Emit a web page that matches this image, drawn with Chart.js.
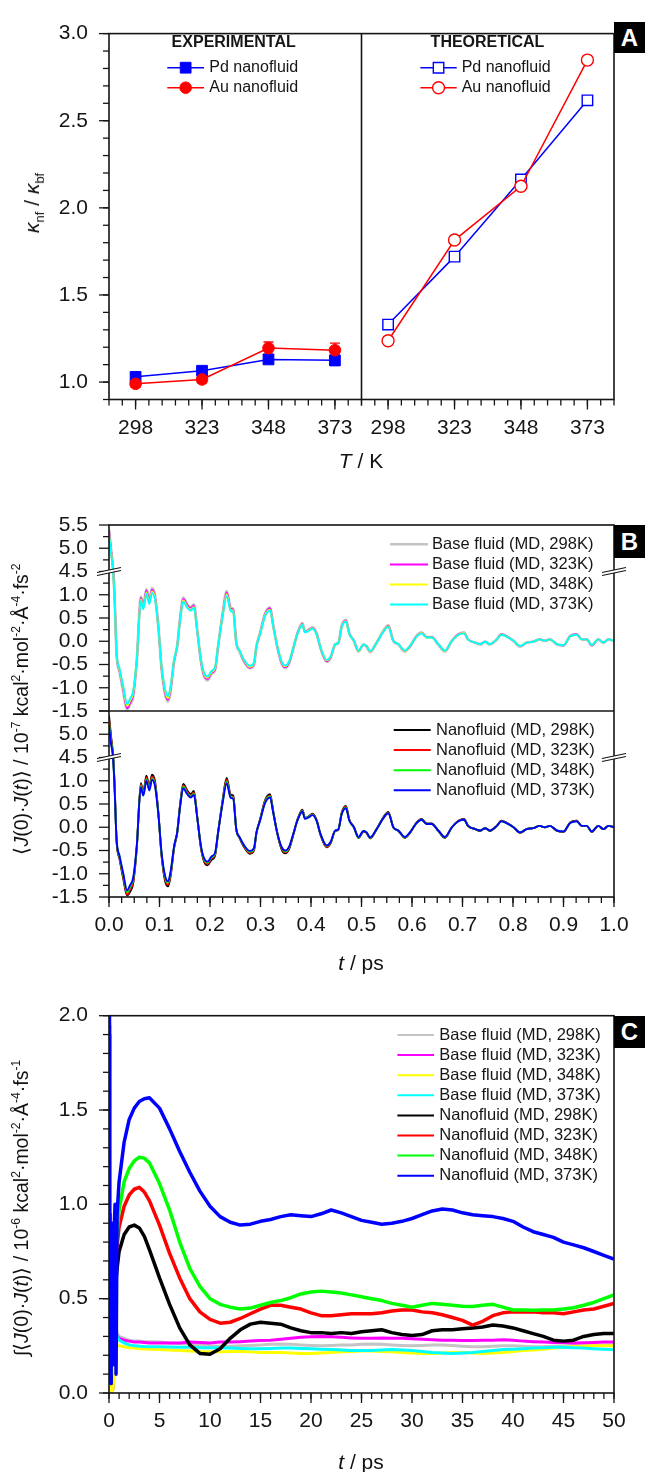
<!DOCTYPE html>
<html>
<head>
<meta charset="utf-8">
<script src="https://cdn.jsdelivr.net/npm/chart.js"></script>
<style>
  body { margin: 0; background: #fff; }
  #page { position: relative; width: 645px; height: 1472px; overflow: hidden;
          font-family: "Liberation Sans", Arial, sans-serif; color: #111; }
  canvas { position: absolute; left: 0; }
  .ytl { position: absolute; white-space: nowrap; transform: translate(-50%, -50%) rotate(-90deg); }
  .xtl { position: absolute; white-space: nowrap; transform: translate(-50%, -50%); }
  .tag { position: absolute; left: 614px; width: 31px; background: #000; color: #fff; font-weight: bold;
         font-size: 24px; display: flex; align-items: center; justify-content: center; }
  sup, sub { font-size: 62%; line-height: 0; }
</style>
</head>
<body>
<div id="page">
  <canvas id="chartA" width="645" height="480" style="top:0"></canvas>
  <canvas id="chartB" width="645" height="500" style="top:480px"></canvas>
  <canvas id="chartC" width="645" height="492" style="top:980px"></canvas>

  <div class="ytl" style="left:32px;top:203px;font-size:21px"><i>κ</i><sub>nf</sub> / <i>κ</i><sub>bf</sub></div>
  <div class="xtl" style="left:361px;top:461px;font-size:21px"><i>T</i> / K</div>
  <div class="ytl" style="left:21px;top:709px;font-size:19.5px">⟨<i>J</i>(0)·<i>J</i>(<i>t</i>)⟩ / 10<sup>-7</sup> kcal<sup>2</sup>·mol<sup>-2</sup>·Å<sup>-4</sup>·fs<sup>-2</sup></div>
  <div class="xtl" style="left:361px;top:963px;font-size:21px"><i>t</i> / ps</div>
  <div class="ytl" style="left:21px;top:1208px;font-size:19.5px">∫⟨<i>J</i>(0)·<i>J</i>(<i>t</i>)⟩ / 10<sup>-6</sup> kcal<sup>2</sup>·mol<sup>-2</sup>·Å<sup>-4</sup>·fs<sup>-1</sup></div>
  <div class="xtl" style="left:361px;top:1462px;font-size:21px"><i>t</i> / ps</div>

  <div class="tag" style="top:22px;height:31px">A</div>
  <div class="tag" style="top:525px;height:33px">B</div>
  <div class="tag" style="top:1016px;height:32px">C</div>
</div>

<script>
// ---------- panel A: thermal conductivity ratio ----------
const A_TEMPS = [298, 323, 348, 373];
const A_YTICKS = [1.0, 1.5, 2.0, 2.5, 3.0];
const PD_EXP = [1.03, 1.065, 1.13, 1.125];
const PD_EXP_ERR = [0.015, 0.015, 0.02, 0.03];
const AU_EXP = [0.99, 1.015, 1.195, 1.183];
const AU_EXP_ERR = [0.02, 0.02, 0.035, 0.04];
const PD_THEO = [1.33, 1.72, 2.163, 2.617];
const AU_THEO = [1.237, 1.815, 2.124, 2.848];

// ---------- panel B: heat current autocorrelation ----------
const B_XTICKS = [0, 0.1, 0.2, 0.3, 0.4, 0.5, 0.6, 0.7, 0.8, 0.9, 1.0];
const B_YTICKS = [-1.5, -1.0, -0.5, 0.0, 0.5, 1.0, 4.5, 5.0, 5.5];
const B_YMINOR = [-1.25, -0.75, -0.25, 0.25, 0.75, 1.25, 4.75, 5.25];
const B_BREAK = [1.5, 4.5];
const B_T = [0.000,0.004,0.008,0.011,0.015,0.021,0.028,0.036,0.041,0.048,
  0.055,0.063,0.068,0.074,0.080,0.085,0.091,0.098,0.104,0.111,
  0.117,0.122,0.129,0.135,0.141,0.147,0.155,0.162,0.168,0.175,
  0.182,0.188,0.195,0.203,0.210,0.216,0.225,0.233,0.241,0.246,
  0.252,0.259,0.267,0.279,0.287,0.292,0.299,0.309,0.319,0.325,
  0.333,0.342,0.349,0.357,0.365,0.373,0.383,0.388,0.395,0.403,
  0.411,0.419,0.431,0.439,0.448,0.454,0.461,0.469,0.476,0.485,
  0.494,0.504,0.510,0.517,0.530,0.543,0.553,0.563,0.573,0.586,
  0.596,0.609,0.619,0.629,0.639,0.652,0.665,0.679,0.692,0.703,
  0.711,0.725,0.735,0.745,0.754,0.768,0.777,0.787,0.801,0.814,
  0.827,0.840,0.853,0.863,0.873,0.887,0.900,0.913,0.926,0.936,
  0.946,0.956,0.969,0.979,0.989,1.000];
const BF298 = [5.40,4.98,4.56,0.99,-0.26,-0.66,-1.06,-1.47,-1.37,-1.18,
  -0.43,0.96,0.76,1.12,0.88,1.14,0.99,0.29,-0.58,-1.13,
  -1.30,-1.06,-0.43,-0.11,0.52,0.94,0.79,0.73,0.79,0.21,
  -0.43,-0.74,-0.84,-0.70,-0.62,-0.11,0.59,1.08,0.72,0.69,
  -0.03,-0.23,-0.43,-0.58,-0.51,-0.11,0.17,0.59,0.73,0.36,
  -0.11,-0.48,-0.57,-0.46,-0.15,0.17,0.39,0.21,0.24,0.30,
  0.17,-0.15,-0.44,-0.35,-0.07,-0.04,0.34,0.46,0.17,0.01,
  -0.22,-0.08,-0.11,-0.23,-0.03,0.22,0.34,0.01,-0.07,-0.22,
  -0.11,0.11,0.19,0.09,0.09,-0.07,-0.22,0.01,0.15,0.19,
  0.04,-0.03,-0.07,-0.01,-0.07,0.04,0.15,0.11,0.01,-0.11,
  -0.03,-0.01,0.04,0.01,0.04,-0.07,-0.09,0.11,0.15,0.04,
  0.04,-0.09,0.04,-0.03,0.04,0.01];
const BF323 = [5.38,4.96,4.55,0.96,-0.26,-0.64,-1.03,-1.44,-1.34,-1.14,
  -0.42,0.93,0.74,1.09,0.86,1.11,0.96,0.28,-0.57,-1.10,
  -1.26,-1.03,-0.42,-0.11,0.50,0.91,0.77,0.71,0.77,0.20,
  -0.42,-0.72,-0.81,-0.68,-0.60,-0.11,0.58,1.05,0.70,0.67,
  -0.03,-0.22,-0.42,-0.57,-0.49,-0.11,0.16,0.58,0.71,0.35,
  -0.11,-0.47,-0.56,-0.45,-0.15,0.16,0.37,0.20,0.24,0.29,
  0.16,-0.15,-0.43,-0.34,-0.06,-0.04,0.33,0.45,0.16,0.01,
  -0.21,-0.07,-0.11,-0.22,-0.03,0.21,0.33,0.01,-0.06,-0.21,
  -0.11,0.11,0.18,0.09,0.09,-0.06,-0.21,0.01,0.15,0.18,
  0.04,-0.03,-0.06,-0.01,-0.06,0.04,0.15,0.11,0.01,-0.11,
  -0.03,-0.01,0.04,0.01,0.04,-0.06,-0.09,0.11,0.15,0.04,
  0.04,-0.09,0.04,-0.03,0.04,0.01];
const BF348 = [5.32,4.92,4.53,0.92,-0.25,-0.62,-0.99,-1.39,-1.29,-1.10,
  -0.40,0.90,0.71,1.05,0.82,1.07,0.93,0.27,-0.55,-1.06,
  -1.22,-0.99,-0.40,-0.10,0.48,0.88,0.74,0.68,0.74,0.20,
  -0.40,-0.69,-0.78,-0.66,-0.58,-0.10,0.56,1.01,0.67,0.65,
  -0.03,-0.22,-0.40,-0.55,-0.47,-0.10,0.15,0.56,0.68,0.34,
  -0.10,-0.45,-0.54,-0.43,-0.14,0.15,0.36,0.20,0.23,0.28,
  0.15,-0.14,-0.41,-0.33,-0.06,-0.04,0.32,0.43,0.15,0.01,
  -0.21,-0.07,-0.10,-0.22,-0.03,0.21,0.32,0.01,-0.06,-0.21,
  -0.10,0.10,0.18,0.08,0.08,-0.06,-0.21,0.01,0.14,0.18,
  0.04,-0.03,-0.06,-0.01,-0.06,0.04,0.14,0.10,0.01,-0.10,
  -0.03,-0.01,0.04,0.01,0.04,-0.06,-0.08,0.10,0.14,0.04,
  0.04,-0.08,0.04,-0.03,0.04,0.01];
const BF373 = [5.30,4.90,4.52,0.90,-0.24,-0.60,-0.96,-1.35,-1.25,-1.07,
  -0.39,0.87,0.69,1.02,0.80,1.04,0.90,0.26,-0.53,-1.03,
  -1.18,-0.96,-0.39,-0.10,0.47,0.85,0.72,0.66,0.72,0.19,
  -0.39,-0.67,-0.76,-0.64,-0.56,-0.10,0.54,0.98,0.65,0.63,
  -0.03,-0.21,-0.39,-0.53,-0.46,-0.10,0.15,0.54,0.66,0.33,
  -0.10,-0.44,-0.52,-0.42,-0.14,0.15,0.35,0.19,0.22,0.27,
  0.15,-0.14,-0.40,-0.32,-0.06,-0.04,0.31,0.42,0.15,0.01,
  -0.20,-0.07,-0.10,-0.21,-0.03,0.20,0.31,0.01,-0.06,-0.20,
  -0.10,0.10,0.17,0.08,0.08,-0.06,-0.20,0.01,0.14,0.17,
  0.04,-0.03,-0.06,-0.01,-0.06,0.04,0.14,0.10,0.01,-0.10,
  -0.03,-0.01,0.04,0.01,0.04,-0.06,-0.08,0.10,0.14,0.04,
  0.04,-0.08,0.04,-0.03,0.04,0.01];
const NF298 = [5.40,4.96,4.56,0.94,-0.29,-0.69,-1.09,-1.47,-1.40,-1.20,
  -0.44,0.95,0.75,1.11,0.88,1.13,0.99,0.28,-0.60,-1.15,
  -1.27,-1.05,-0.44,-0.12,0.51,0.93,0.79,0.71,0.78,0.20,
  -0.44,-0.73,-0.82,-0.70,-0.61,-0.12,0.58,1.06,0.70,0.68,
  -0.04,-0.24,-0.42,-0.57,-0.50,-0.12,0.16,0.58,0.71,0.36,
  -0.12,-0.48,-0.56,-0.46,-0.16,0.16,0.38,0.20,0.23,0.29,
  0.16,-0.17,-0.43,-0.34,-0.08,-0.06,0.32,0.46,0.16,0.00,
  -0.23,-0.09,-0.12,-0.24,-0.04,0.21,0.33,0.00,-0.08,-0.23,
  -0.12,0.10,0.18,0.08,0.08,-0.08,-0.23,0.00,0.14,0.18,
  0.03,-0.04,-0.08,-0.02,-0.08,0.03,0.14,0.10,0.00,-0.12,
  -0.04,-0.02,0.03,0.00,0.03,-0.08,-0.10,0.10,0.14,0.03,
  0.03,-0.10,0.03,-0.04,0.03,0.00];
const NF323 = [5.32,4.90,4.54,0.91,-0.28,-0.66,-1.05,-1.45,-1.35,-1.16,
  -0.43,0.92,0.73,1.07,0.85,1.09,0.95,0.27,-0.58,-1.11,
  -1.24,-1.02,-0.43,-0.12,0.49,0.90,0.76,0.68,0.75,0.19,
  -0.43,-0.71,-0.79,-0.67,-0.59,-0.12,0.56,1.02,0.67,0.65,
  -0.04,-0.24,-0.41,-0.55,-0.48,-0.12,0.15,0.56,0.68,0.34,
  -0.12,-0.46,-0.54,-0.44,-0.15,0.15,0.36,0.19,0.22,0.28,
  0.15,-0.16,-0.42,-0.33,-0.07,-0.05,0.31,0.44,0.15,0.00,
  -0.22,-0.09,-0.12,-0.24,-0.04,0.20,0.32,0.00,-0.07,-0.22,
  -0.12,0.10,0.17,0.07,0.07,-0.07,-0.22,0.00,0.14,0.17,
  0.03,-0.04,-0.07,-0.02,-0.07,0.03,0.14,0.10,0.00,-0.12,
  -0.04,-0.02,0.03,0.00,0.03,-0.07,-0.10,0.10,0.14,0.03,
  0.03,-0.10,0.03,-0.04,0.03,0.00];
const NF348 = [5.26,4.85,4.52,0.88,-0.27,-0.64,-1.01,-1.40,-1.30,-1.11,
  -0.41,0.89,0.70,1.03,0.81,1.05,0.92,0.26,-0.56,-1.07,
  -1.19,-0.98,-0.41,-0.11,0.47,0.87,0.73,0.66,0.72,0.19,
  -0.41,-0.68,-0.76,-0.65,-0.57,-0.11,0.54,0.98,0.65,0.63,
  -0.04,-0.23,-0.39,-0.53,-0.46,-0.11,0.14,0.54,0.66,0.33,
  -0.11,-0.44,-0.52,-0.42,-0.14,0.14,0.35,0.19,0.22,0.27,
  0.14,-0.15,-0.40,-0.32,-0.07,-0.05,0.30,0.42,0.14,0.00,
  -0.22,-0.08,-0.11,-0.23,-0.04,0.20,0.31,0.00,-0.07,-0.22,
  -0.11,0.09,0.16,0.07,0.07,-0.07,-0.22,0.00,0.13,0.16,
  0.03,-0.04,-0.07,-0.02,-0.07,0.03,0.13,0.09,0.00,-0.11,
  -0.04,-0.02,0.03,0.00,0.03,-0.07,-0.09,0.09,0.13,0.03,
  0.03,-0.09,0.03,-0.04,0.03,0.00];
const NF373 = [5.20,4.80,4.50,0.85,-0.26,-0.62,-0.98,-1.36,-1.26,-1.08,
  -0.40,0.86,0.68,1.00,0.79,1.02,0.89,0.25,-0.54,-1.04,
  -1.16,-0.95,-0.40,-0.11,0.46,0.84,0.71,0.64,0.70,0.18,
  -0.40,-0.66,-0.74,-0.63,-0.55,-0.11,0.52,0.95,0.63,0.61,
  -0.04,-0.22,-0.38,-0.51,-0.45,-0.11,0.14,0.52,0.64,0.32,
  -0.11,-0.43,-0.50,-0.41,-0.14,0.14,0.34,0.18,0.21,0.26,
  0.14,-0.15,-0.39,-0.31,-0.07,-0.05,0.29,0.41,0.14,0.00,
  -0.21,-0.08,-0.11,-0.22,-0.04,0.19,0.30,0.00,-0.07,-0.21,
  -0.11,0.09,0.16,0.07,0.07,-0.07,-0.21,0.00,0.13,0.16,
  0.03,-0.04,-0.07,-0.02,-0.07,0.03,0.13,0.09,0.00,-0.11,
  -0.04,-0.02,0.03,0.00,0.03,-0.07,-0.09,0.09,0.13,0.03,
  0.03,-0.09,0.03,-0.04,0.03,0.00];

// ---------- panel C: running integral ----------
const C_XTICKS = [0, 5, 10, 15, 20, 25, 30, 35, 40, 45, 50];
const C_YTICKS = [0.0, 0.5, 1.0, 1.5, 2.0];
const C_T = [0,0.05,0.1,0.2,0.3,0.4,0.5,0.6,0.7,0.8,
  1,1.5,2,2.5,3,3.5,4,
  5,6,7,8,9,10,11,12,13,14,15,16,17,18,19,20,21,22,23,24,25,26,27,28,29,
  30,31,32,33,34,35,36,37,38,39,40,41,42,43,44,45,46,47,48,49,50];
const CBF298 = [1.9,0.6,0.4,0.2,0.1,0.05,0.25,0.38,0.35,0.32,
  0.3,0.29,0.28,0.275,0.275,0.273,0.272,
  0.27,0.265,0.262,0.258,0.255,0.25,0.248,0.248,0.25,0.252,
  0.255,0.258,0.26,0.258,0.255,0.252,0.25,0.252,0.255,0.255,
  0.258,0.26,0.258,0.255,0.252,0.25,0.252,0.255,0.255,0.252,
  0.248,0.245,0.245,0.248,0.25,0.25,0.248,0.245,0.245,0.248,
  0.25,0.252,0.255,0.255,0.255,0.255];
const CBF323 = [1.85,0.5,0.3,0.1,0.05,0.02,0.15,0.3,0.32,0.3,
  0.29,0.28,0.275,0.27,0.27,0.268,0.265,
  0.265,0.265,0.265,0.27,0.268,0.265,0.27,0.27,0.272,0.275,
  0.278,0.28,0.285,0.29,0.295,0.298,0.3,0.298,0.295,0.292,
  0.29,0.29,0.292,0.29,0.29,0.288,0.285,0.282,0.28,0.28,
  0.278,0.278,0.28,0.28,0.282,0.28,0.275,0.272,0.27,0.268,
  0.268,0.265,0.266,0.268,0.27,0.27];
const CBF348 = [1.8,0.3,0.1,0.02,0.0,0.02,0.1,0.2,0.25,0.25,
  0.25,0.245,0.24,0.238,0.235,0.233,0.232,
  0.23,0.228,0.225,0.222,0.22,0.218,0.218,0.22,0.22,0.218,
  0.215,0.215,0.215,0.212,0.21,0.21,0.212,0.215,0.218,0.22,
  0.222,0.222,0.22,0.218,0.215,0.212,0.21,0.21,0.212,0.215,
  0.215,0.212,0.21,0.212,0.215,0.22,0.225,0.228,0.232,0.238,
  0.242,0.245,0.248,0.25,0.25,0.25];
const CBF373 = [1.95,0.7,0.5,0.35,0.3,0.38,0.42,0.36,0.32,0.3,
  0.28,0.265,0.255,0.25,0.248,0.246,0.245,
  0.245,0.244,0.243,0.242,0.24,0.24,0.24,0.238,0.236,0.235,
  0.235,0.236,0.238,0.238,0.236,0.235,0.232,0.23,0.228,0.225,
  0.225,0.225,0.228,0.23,0.228,0.225,0.22,0.215,0.212,0.21,
  0.212,0.215,0.22,0.225,0.23,0.232,0.235,0.238,0.24,0.242,
  0.242,0.24,0.238,0.235,0.232,0.23];
const CNF298 = [1.9,0.1,0.6,0.05,0.5,0.3,0.45,0.55,0.6,0.66,
  0.75,0.84,0.88,0.89,0.875,0.83,0.76,
  0.61,0.47,0.345,0.255,0.21,0.205,0.235,0.29,0.335,0.365,
  0.375,0.37,0.365,0.345,0.33,0.32,0.32,0.315,0.32,0.315,
  0.325,0.33,0.335,0.32,0.31,0.305,0.31,0.33,0.335,0.335,
  0.34,0.345,0.35,0.36,0.355,0.345,0.33,0.315,0.3,0.28,
  0.275,0.28,0.3,0.31,0.315,0.315];
const CNF323 = [1.95,0.15,0.7,0.1,0.6,0.35,0.55,0.65,0.72,0.78,
  0.88,0.99,1.05,1.08,1.09,1.065,1.02,
  0.89,0.74,0.61,0.50,0.43,0.39,0.37,0.375,0.395,0.42,
  0.445,0.465,0.465,0.455,0.445,0.425,0.41,0.41,0.415,0.42,
  0.42,0.42,0.425,0.435,0.44,0.44,0.43,0.425,0.415,0.40,
  0.385,0.36,0.38,0.41,0.425,0.43,0.43,0.43,0.425,0.425,
  0.42,0.43,0.44,0.445,0.46,0.475];
const CNF348 = [1.9,0.2,0.8,0.1,0.7,0.3,0.6,0.7,0.75,0.85,
  0.97,1.12,1.19,1.23,1.25,1.245,1.22,
  1.11,0.97,0.80,0.66,0.565,0.50,0.47,0.455,0.445,0.45,
  0.465,0.48,0.49,0.505,0.525,0.535,0.54,0.535,0.53,0.52,
  0.51,0.5,0.49,0.475,0.465,0.455,0.465,0.475,0.47,0.465,
  0.46,0.458,0.465,0.47,0.455,0.44,0.44,0.438,0.44,0.44,
  0.445,0.452,0.465,0.48,0.5,0.52];
const CNF373 = [2.0,0.1,0.95,0.05,0.9,0.15,0.85,1.0,0.1,0.95,
  1.12,1.33,1.45,1.51,1.545,1.56,1.565,
  1.51,1.40,1.28,1.17,1.07,0.99,0.935,0.905,0.89,0.895,
  0.91,0.92,0.935,0.945,0.94,0.935,0.95,0.97,0.955,0.935,
  0.915,0.905,0.895,0.9,0.91,0.925,0.945,0.965,0.975,0.97,
  0.955,0.945,0.94,0.935,0.925,0.91,0.88,0.855,0.84,0.825,
  0.8,0.785,0.77,0.75,0.73,0.71];

// ---------- look ----------
const FONT = '"Liberation Sans", Arial, sans-serif';
const INK = '#151515';
const BLUE = '#0000ff', RED = '#ff0000', GREEN = '#00ff00', BLACK = '#000000';
const GRAY = '#c4c4c4', MAGENTA = '#ff00ff', YELLOW = '#ffff00', CYAN = '#00ffff';

Chart.defaults.font.family = FONT;
Chart.defaults.color = INK;

const pts = (xs, ys) => xs.map((x, i) => ({x: x, y: ys[i]}));
function steps(a, b, st) {
  const out = [];
  for (let v = a; v <= b + 1e-9; v += st) out.push(Math.round(v * 1000) / 1000);
  return out;
}

// linear scale with a gap between B_BREAK[0] and B_BREAK[1]
const LinearScale = Chart.LinearScale || Chart.registry.getScale('linear');
class BrokenScale extends LinearScale {
  getPixelForValue(v) {
    if (v === null || v === undefined) return NaN;
    const gap = B_BREAK[1] - B_BREAK[0];
    const t = v >= B_BREAK[1] ? v - gap : Math.min(v, B_BREAK[0]);
    return super.getPixelForValue(t);
  }
}
BrokenScale.id = 'broken';
BrokenScale.defaults = LinearScale.defaults;
Chart.register(BrokenScale);

function yAxis(type, min, max, major, fmt, extra) {
  return Object.assign({
    type: type, position: 'left', min: min, max: max,
    grid: {display: false, drawTicks: false}, border: {display: false},
    ticks: {autoSkip: false, padding: 21, font: {size: 21}, color: INK, callback: fmt},
    afterBuildTicks: s => { s.ticks = major.map(v => ({value: v})); },
    afterFit: s => { s.width = 109; }
  }, extra || {});
}
function xAxis(min, max, major, fmt, h, extra) {
  return Object.assign({
    type: 'linear', position: 'bottom', min: min, max: max,
    grid: {display: false, drawTicks: false}, border: {display: false},
    ticks: {autoSkip: false, maxRotation: 0, padding: 16, font: {size: 21}, color: INK, callback: fmt},
    afterBuildTicks: s => { s.ticks = major.map(v => ({value: v})); },
    afterFit: s => { s.height = h; }
  }, extra || {});
}

// frame, tick marks, dividers, axis breaks, error bars and legends
const DECO = {
  chartA: {
    dividers: [{scale: 'xThe', edge: 'left'}],
    marks: [
      {id: 'xExp', major: A_TEMPS, minor: steps(288, 383, 5)},
      {id: 'xThe', major: A_TEMPS, minor: steps(288, 383, 5)},
      {id: 'y', major: A_YTICKS, minor: steps(0.9, 3.0, 0.1)}
    ],
    legends: [
      {title: 'EXPERIMENTAL', titleX: 233.7, titleY: 42.7, size: 16, x0: 167.3, x1: 204, tx: 209.3, y: 67.7, dy: 20, items: [0, 1]},
      {title: 'THEORETICAL', titleX: 487.5, titleY: 42.7, size: 16, x0: 420.4, x1: 456.7, tx: 461.7, y: 67.7, dy: 20, items: [2, 3]}
    ]
  },
  chartB: {
    dividers: [{scale: 'yBot', edge: 'top'}],
    breaks: ['yTop', 'yBot'],
    marks: [
      {id: 'x', major: B_XTICKS, minor: steps(0, 1, 0.025)},
      {id: 'yTop', major: B_YTICKS, minor: B_YMINOR},
      {id: 'yBot', major: B_YTICKS, minor: B_YMINOR}
    ],
    legends: [
      {size: 16.5, x0: 390, x1: 428, tx: 432, y: 64.3, dy: 20.1, items: [0, 1, 2, 3]},
      {size: 16.5, x0: 393.7, x1: 430.7, tx: 436, y: 250, dy: 20.1, items: [4, 5, 6, 7]}
    ]
  },
  chartC: {
    marks: [
      {id: 'x', major: C_XTICKS, minor: steps(0, 50, 1)},
      {id: 'y', major: C_YTICKS, minor: steps(0, 2, 0.1)}
    ],
    legends: [
      {size: 16.5, x0: 397.4, x1: 434, tx: 439.3, y: 55, dy: 20.1, items: [0, 1, 2, 3, 4, 5, 6, 7]}
    ]
  }
};

const panelDeco = {
  id: 'panelDeco',
  beforeDatasetsDraw(chart) {
    const ctx = chart.ctx;
    chart.data.datasets.forEach((ds, i) => {
      if (!ds.errors) return;
      const meta = chart.getDatasetMeta(i);
      const ys = chart.scales[meta.yAxisID];
      ctx.save();
      ctx.strokeStyle = ds.borderColor;
      ctx.lineWidth = 1.3;
      meta.data.forEach((pt, j) => {
        const v = ds.data[j].y, e = ds.errors[j];
        const y1 = ys.getPixelForValue(v - e), y2 = ys.getPixelForValue(v + e);
        ctx.beginPath();
        ctx.moveTo(pt.x, y1); ctx.lineTo(pt.x, y2);
        ctx.moveTo(pt.x - 5, y1); ctx.lineTo(pt.x + 5, y1);
        ctx.moveTo(pt.x - 5, y2); ctx.lineTo(pt.x + 5, y2);
        ctx.stroke();
      });
      ctx.restore();
    });
  },
  afterDraw(chart) {
    const cfg = DECO[chart.canvas.id];
    const ctx = chart.ctx, a = chart.chartArea;
    ctx.save();
    ctx.strokeStyle = INK;
    ctx.lineWidth = 1.6;
    ctx.strokeRect(a.left, a.top, a.right - a.left, a.bottom - a.top);
    (cfg.dividers || []).forEach(d => {
      const s = chart.scales[d.scale];
      ctx.beginPath();
      if (d.edge === 'left') { ctx.moveTo(s.left, a.top); ctx.lineTo(s.left, a.bottom); }
      else { ctx.moveTo(a.left, s.top); ctx.lineTo(a.right, s.top); }
      ctx.stroke();
    });
    ctx.lineWidth = 1.3;
    cfg.marks.forEach(m => {
      const s = chart.scales[m.id];
      const horiz = s.isHorizontal();
      const draw = (vals, len) => vals.forEach(v => {
        const p = s.getPixelForValue(v);
        ctx.beginPath();
        if (horiz) { ctx.moveTo(p, s.top); ctx.lineTo(p, s.top + len); }
        else { ctx.moveTo(s.right, p); ctx.lineTo(s.right - len, p); }
        ctx.stroke();
      });
      draw(m.minor, 6);
      draw(m.major, 10);
    });
    (cfg.breaks || []).forEach(id => {
      const y = chart.scales[id].getPixelForValue(B_BREAK[0]);
      [a.left, a.right].forEach(x => {
        ctx.fillStyle = '#fff';
        ctx.beginPath();
        ctx.moveTo(x - 12, y + 1); ctx.lineTo(x + 12, y - 4);
        ctx.lineTo(x + 12, y - 1); ctx.lineTo(x - 12, y + 4);
        ctx.closePath(); ctx.fill();
        ctx.lineWidth = 1.2;
        ctx.beginPath();
        ctx.moveTo(x - 12, y + 1); ctx.lineTo(x + 12, y - 4);
        ctx.moveTo(x - 12, y + 4); ctx.lineTo(x + 12, y - 1);
        ctx.stroke();
      });
    });
    ctx.textBaseline = 'middle';
    (cfg.legends || []).forEach(L => {
      if (L.title) {
        ctx.font = 'bold ' + L.size + 'px ' + FONT;
        ctx.textAlign = 'center';
        ctx.fillStyle = INK;
        ctx.fillText(L.title, L.titleX, L.titleY);
      }
      L.items.forEach((idx, k) => {
        const ds = chart.data.datasets[idx];
        const y = L.y + k * L.dy;
        ctx.strokeStyle = ds.borderColor;
        ctx.lineWidth = ds.legendWidth || ds.borderWidth;
        ctx.beginPath(); ctx.moveTo(L.x0, y); ctx.lineTo(L.x1, y); ctx.stroke();
        if (ds.pointRadius) {
          ctx.fillStyle = ds.backgroundColor;
          ctx.lineWidth = ds.pointBorderWidth;
          Chart.helpers.drawPoint(ctx, {pointStyle: ds.pointStyle, radius: ds.pointRadius,
            borderWidth: ds.pointBorderWidth, rotation: 0}, (L.x0 + L.x1) / 2, y);
        }
        ctx.font = L.size + 'px ' + FONT;
        ctx.textAlign = 'left';
        ctx.fillStyle = INK;
        ctx.fillText(ds.label, L.tx, y);
      });
    });
    ctx.restore();
  }
};

const common = {
  responsive: false,
  animation: false,
  events: [],
  plugins: {legend: {display: false}, tooltip: {enabled: false}}
};

// ---------- panel A ----------
new Chart(document.getElementById('chartA'), {
  type: 'line',
  data: {datasets: [
    {label: 'Pd nanofluid', data: pts(A_TEMPS, PD_EXP), errors: PD_EXP_ERR, xAxisID: 'xExp', yAxisID: 'y',
     borderColor: BLUE, backgroundColor: BLUE, borderWidth: 1.5, pointStyle: 'rect', pointRadius: 7.6, pointBorderWidth: 1, order: 0},
    {label: 'Au nanofluid', data: pts(A_TEMPS, AU_EXP), errors: AU_EXP_ERR, xAxisID: 'xExp', yAxisID: 'y',
     borderColor: RED, backgroundColor: RED, borderWidth: 1.5, pointStyle: 'circle', pointRadius: 5.8, pointBorderWidth: 1, order: -1},
    {label: 'Pd nanofluid', data: pts(A_TEMPS, PD_THEO), xAxisID: 'xThe', yAxisID: 'y',
     borderColor: BLUE, backgroundColor: '#ffffff', borderWidth: 1.5, pointStyle: 'rect', pointRadius: 7.4, pointBorderWidth: 1.4, order: -2},
    {label: 'Au nanofluid', data: pts(A_TEMPS, AU_THEO), xAxisID: 'xThe', yAxisID: 'y',
     borderColor: RED, backgroundColor: '#ffffff', borderWidth: 1.5, pointStyle: 'circle', pointRadius: 6, pointBorderWidth: 1.4, order: -3}
  ]},
  options: Object.assign({}, common, {
    layout: {padding: {top: 21.7, right: 31, left: 0, bottom: 0}},
    scales: {
      xExp: xAxis(288, 383, A_TEMPS, v => String(v), 80.5, {stack: 'temps', weight: 0}),
      xThe: xAxis(288, 383, A_TEMPS, v => String(v), 80.5, {stack: 'temps', weight: 1}),
      y: yAxis('linear', 0.9, 3.0, A_YTICKS, v => v.toFixed(1))
    }
  }),
  plugins: [panelDeco]
});

// ---------- panel B ----------
const bSeries = (label, arr, color, axis, k, w) => ({
  label: label, data: pts(B_T, arr), yAxisID: axis, xAxisID: 'x', borderColor: color,
  borderWidth: w || 1.9, legendWidth: w ? 2.6 : 2, pointRadius: 0,
  cubicInterpolationMode: 'monotone', borderJoinStyle: 'round', order: -k
});
new Chart(document.getElementById('chartB'), {
  type: 'line',
  data: {datasets: [
    bSeries('Base fluid (MD, 298K)', BF298, GRAY, 'yTop', 0, 2.8),
    bSeries('Base fluid (MD, 323K)', BF323, MAGENTA, 'yTop', 1),
    bSeries('Base fluid (MD, 348K)', BF348, YELLOW, 'yTop', 2),
    bSeries('Base fluid (MD, 373K)', BF373, CYAN, 'yTop', 3),
    bSeries('Nanofluid (MD, 298K)', NF298, BLACK, 'yBot', 4),
    bSeries('Nanofluid (MD, 323K)', NF323, RED, 'yBot', 5),
    bSeries('Nanofluid (MD, 348K)', NF348, GREEN, 'yBot', 6),
    bSeries('Nanofluid (MD, 373K)', NF373, BLUE, 'yBot', 7)
  ]},
  options: Object.assign({}, common, {
    layout: {padding: {top: 45, right: 31, left: 0, bottom: 0}},
    scales: {
      x: xAxis(0, 1, B_XTICKS, v => v.toFixed(1), 83),
      yTop: yAxis('broken', -1.5, 2.5, B_YTICKS, v => v.toFixed(1), {stack: 'acf', weight: 1}),
      yBot: yAxis('broken', -1.5, 2.5, B_YTICKS, v => (v === 5.5 ? '' : v.toFixed(1)), {stack: 'acf', weight: 0})
    }
  }),
  plugins: [panelDeco]
});

// ---------- panel C ----------
const cSeries = (label, arr, color, k, w) => ({
  label: label, data: pts(C_T, arr), borderColor: color, borderWidth: w, legendWidth: 2,
  pointRadius: 0, tension: 0, borderJoinStyle: 'round', order: -k
});
new Chart(document.getElementById('chartC'), {
  type: 'line',
  data: {datasets: [
    cSeries('Base fluid (MD, 298K)', CBF298, GRAY, 0, 3),
    cSeries('Base fluid (MD, 323K)', CBF323, MAGENTA, 1, 3),
    cSeries('Base fluid (MD, 348K)', CBF348, YELLOW, 2, 3),
    cSeries('Base fluid (MD, 373K)', CBF373, CYAN, 3, 3),
    cSeries('Nanofluid (MD, 298K)', CNF298, BLACK, 4, 3.5),
    cSeries('Nanofluid (MD, 323K)', CNF323, RED, 5, 3.5),
    cSeries('Nanofluid (MD, 348K)', CNF348, GREEN, 6, 3.5),
    cSeries('Nanofluid (MD, 373K)', CNF373, BLUE, 7, 3.5)
  ]},
  options: Object.assign({}, common, {
    layout: {padding: {top: 35.7, right: 31, left: 0, bottom: 0}},
    scales: {
      x: xAxis(0, 50, C_XTICKS, v => String(v), 79),
      y: yAxis('linear', 0, 2, C_YTICKS, v => v.toFixed(1))
    }
  }),
  plugins: [panelDeco]
});
</script>
</body>
</html>
